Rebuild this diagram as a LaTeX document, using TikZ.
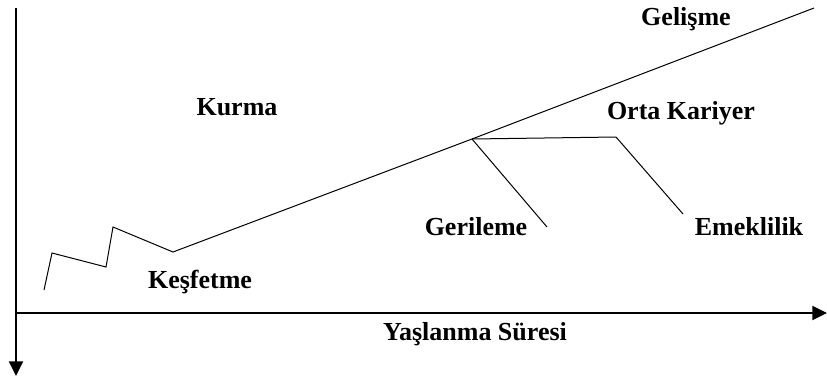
\documentclass[tikz,border=0pt]{standalone}
\usepackage{fontspec}
\setmainfont{Liberation Serif}
\usepackage{tikz}
\usetikzlibrary{arrows.meta,positioning,calc}

\begin{document}
\begin{tikzpicture}[
    x=0.75pt, y=-0.75pt,
    axis/.style={line width=1.5pt, -{Triangle[length=11pt,width=10.5pt]}},
    curve/.style={line width=0.75pt},
    lbl/.style={anchor=base, inner sep=0pt, font=\fontsize{19.5}{23}\selectfont\bfseries}
]
    \useasboundingbox (0,0) rectangle (827,379);

    % Axes
    \coordinate (top) at (16,8);
    \coordinate (bottom) at (16,376);
    \coordinate (origin) at (16,313);
    \coordinate (right) at (827,313);
    \draw[axis] (top) -- (bottom);
    \draw[axis] (origin) -- (right);

    % Career path points
    \coordinate (p1) at (44,290);
    \coordinate (p2) at (52,253);
    \coordinate (p3) at (106,267);
    \coordinate (p4) at (113,227);
    \coordinate (p5) at (173,252);
    \coordinate (split) at (472,139);
    \coordinate (peak) at (814,8);
    \coordinate (decline) at (547,227);
    \coordinate (plateau) at (616,137);
    \coordinate (retire) at (683,214);

    % Path
    \draw[curve] (p1) -- (p2) -- (p3) -- (p4) -- (p5) -- (split) -- (peak);
    \draw[curve] (split) -- (decline);
    \draw[curve] (split) -- (plateau) -- (retire);

    % Labels
    \node[lbl] (kesfetme) at (200,288) {Keşfetme};
    \node[lbl] (kurma) at (237,115) {Kurma};
    \node[lbl] (gelisme) at (686,25) {Gelişme};
    \node[lbl] (orta) at (681,119) {Orta Kariyer};
    \node[lbl] (gerileme) at (476,235) {Gerileme};
    \node[lbl] (emeklilik) at (749,235) {Emeklilik};
    \node[lbl] (sure) at (475,340) {Yaşlanma Süresi};
\end{tikzpicture}
\end{document}
